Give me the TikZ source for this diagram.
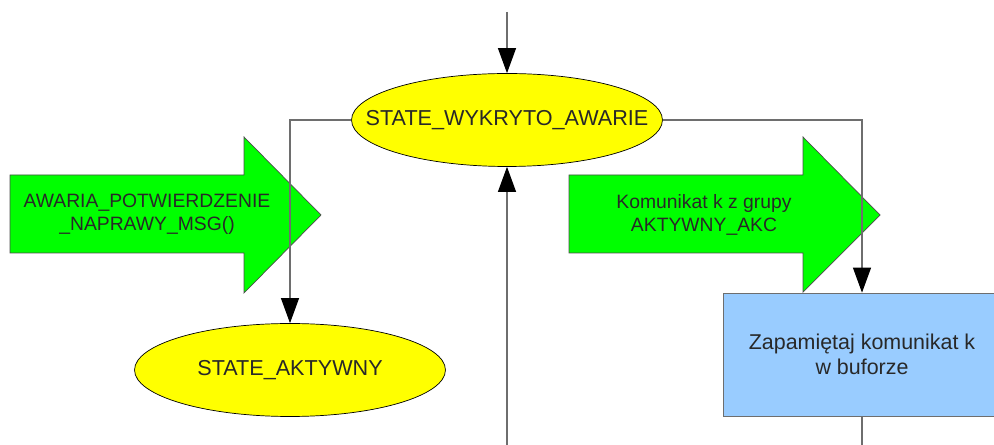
\documentclass[tikz,border=0pt]{standalone}
\usepackage{fontspec}
\setmainfont{Liberation Sans}
\usetikzlibrary{shapes.geometric,arrows.meta,positioning}

\definecolor{StateYellow}{RGB}{255,255,0}
\definecolor{EventGreen}{RGB}{0,255,0}
\definecolor{ActionBlue}{RGB}{153,204,255}
\definecolor{LineGray}{RGB}{110,110,110}
\definecolor{TextGray}{RGB}{40,40,40}

\begin{document}
\begin{tikzpicture}[x=0.02cm, y=-0.02cm]
			\tikzstyle{State}	= [ellipse, draw=black, fill=StateYellow, minimum width=6.22cm, minimum height=1.86cm, inner xsep=-2cm, inner ysep=0pt, text=TextGray, font=\fontsize{12.3}{14}\selectfont]
			\tikzstyle{Action}	= [rectangle, draw=LineGray, fill=ActionBlue, minimum width=5.56cm, minimum height=2.46cm, inner sep=0pt, align=center, text=TextGray, font=\fontsize{12.2}{14}\selectfont]
			\tikzstyle{Event}	= [draw=black!70, fill=EventGreen]
			\tikzstyle{EventText}	= [align=center, inner sep=0pt, text=TextGray, font=\fontsize{11}{13.3}\selectfont]
			\tikzstyle{Flow}	= [LineGray, line width=0.6pt]
			\tikzstyle{Head}	= [-{Triangle[length=5mm, width=3.6mm, black]}]

			\clip (0,0) rectangle (994,445);

			% events
			\draw [Event] (10,175) -- (244,175) -- (244,137) -- (321,215) -- (244,293) -- (244,253) -- (10,253) -- cycle;
			\node (naprawa) at (147,214) [EventText] {AWARIA\_POTWIERDZENIE\\\_NAPRAWY\_MSG()};
			\draw [Event] (569,175) -- (803,175) -- (803,137) -- (880,215) -- (803,292) -- (803,253) -- (569,253) -- cycle;
			\node (komunikat) at (704,215) [EventText] {Komunikat k z grupy\\AKTYWNY\_AKC};

			% states and actions
			\node (wykryto) at (507,120) [State] {STATE\_WYKRYTO\_AWARIE};
			\node (aktywny) at (290,370) [State] {STATE\_AKTYWNY};
			\node (bufor) at (862,354.5) [Action] {Zapamiętaj komunikat k\\w buforze};

			\coordinate (entry) at (507,12);
			\coordinate (loop) at (507,445);
			\coordinate (exit) at (862,445);

			% transitions
			\draw [Flow][Head] (entry) to (wykryto);
			\draw [Flow][Head] (loop) to (wykryto);
			\draw [Flow][Head] (wykryto.west) -| (aktywny.north);
			\draw [Flow][Head] (wykryto.east) -| (bufor.north);
			\draw [Flow] (bufor.south) to (exit);
		\end{tikzpicture}
\end{document}
